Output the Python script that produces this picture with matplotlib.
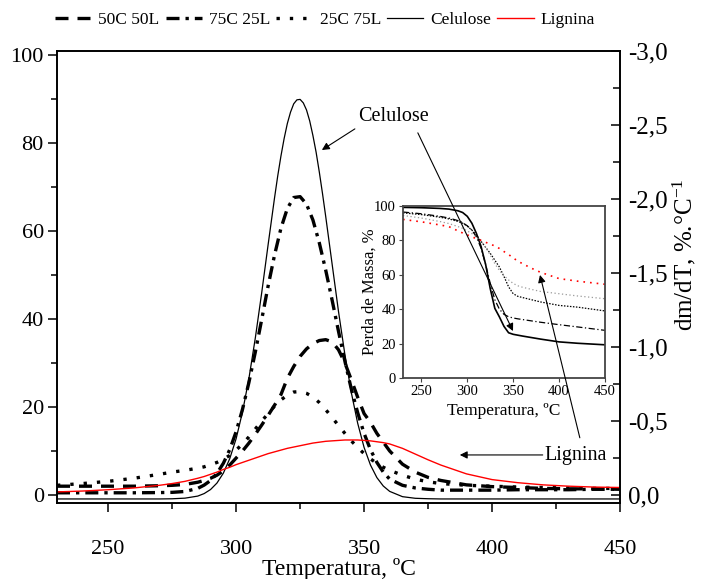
import matplotlib
matplotlib.use('Agg')
import matplotlib.pyplot as plt
from matplotlib.ticker import MultipleLocator, FuncFormatter

plt.rcParams['font.family'] = ['Liberation Serif', 'DejaVu Serif']
plt.rcParams['mathtext.fontset'] = 'custom'
plt.rcParams['mathtext.rm'] = 'Liberation Serif'
plt.rcParams['mathtext.it'] = 'Liberation Serif:italic'

# ---------------- main DTG data ----------------
temperature = [230, 240, 250, 260, 270, 275, 280,
               285, 287.5, 290, 292.5, 295, 297.5, 300, 302.5, 305, 307.5,
               310, 312.5, 315, 317.5, 320, 322.5, 325, 327.5, 330, 332.5,
               335, 337.5, 340, 342.5, 345, 347.5, 350, 352.5, 355, 357.5, 360,
               365, 370, 375, 380, 390, 400, 410, 420, 430, 440, 450]

dtg_50c50l = [2.0, 2.0, 2.0, 2.0, 2.1, 2.2, 2.4,
              2.9, 3.3, 3.8, 4.5, 5.5, 6.8, 8.4, 10.0, 11.8, 13.8,
              15.9, 18.1, 20.4, 22.8, 26.5, 29.2, 31.5, 33.2, 34.4, 35.1,
              35.3, 34.8, 33.0, 30.0, 26.2, 22.2, 18.5, 16.5, 14.0, 12.0, 10.0,
              7.0, 5.2, 4.0, 3.3, 2.3, 1.9, 1.7, 1.5, 1.4, 1.4, 1.3]

dtg_75c25l = [0.5, 0.5, 0.5, 0.5, 0.55, 0.6, 0.8,
              1.5, 2.25, 3.3, 4.9, 7.2, 10.3, 14.4, 19.5, 25.6, 32.5,
              39.9, 47.5, 54.5, 60.6, 65.1, 67.6, 67.8, 66.1, 62.5, 57.3,
              51.1, 44.3, 37.2, 30.4, 24.1, 18.7, 14.0, 10.3, 7.4, 5.2, 3.6,
              2.2, 1.6, 1.3, 1.1, 1.1, 1.1, 1.2, 1.2, 1.2, 1.3, 1.3]

dtg_25c75l = [2.2, 2.6, 3.1, 3.8, 4.7, 5.2, 5.6,
              6.1, 6.4, 6.9, 7.4, 8.1, 9.0, 10.2, 11.6, 13.2, 15.0,
              16.8, 18.5, 20.2, 21.6, 22.7, 23.4, 23.5, 23.1, 22.3, 21.0,
              19.4, 17.6, 15.8, 14.0, 12.3, 10.8, 9.4, 8.2, 7.2, 6.3, 5.6,
              4.5, 3.6, 3.0, 2.6, 2.2, 2.0, 1.8, 1.7, 1.6, 1.5, 1.5]

dtg_lignina = [0.7, 0.9, 1.2, 1.6, 2.2, 2.6, 3.1,
               3.8, 4.2, 4.7, 5.2, 5.8, 6.3, 6.9, 7.4, 7.9, 8.4,
               8.9, 9.4, 9.8, 10.2, 10.6, 10.9, 11.2, 11.5, 11.8, 12.0,
               12.2, 12.3, 12.4, 12.5, 12.5, 12.5, 12.4, 12.3, 12.1, 11.9, 11.6,
               10.6, 9.3, 8.0, 6.8, 4.8, 3.5, 2.8, 2.3, 2.0, 1.8, 1.7]

temperature_cel = [230, 250, 270, 275, 280, 285, 287.5, 290, 292.5, 295, 297.5,
                   300, 302.5, 305, 307.5, 310, 312.5, 315, 316.25, 317.5, 318.75,
                   320, 321.25, 322.5, 323.75, 325, 326.25, 327.5, 328.75, 330,
                   331.25, 332.5, 333.75, 335, 337.5, 340, 342.5, 345, 347.5, 350,
                   352.5, 355, 357.5, 360, 365, 370, 375, 380, 400, 450]
dtg_celulose = [-0.9, -0.9, -0.9, -0.86, -0.72, -0.25, 0.32, 1.24, 2.71, 4.96, 8.25,
                12.8, 18.9, 26.5, 35.7, 46.0, 56.9, 67.5, 72.5, 77.0, 81.0,
                84.4, 87.0, 88.9, 89.8, 89.9, 89.1, 87.5, 85.0, 81.7,
                77.9, 73.4, 68.5, 63.3, 52.5, 41.7, 31.9, 23.3, 16.3, 10.8,
                6.8, 3.95, 2.04, 0.82, -0.38, -0.75, -0.85, -0.9, -0.9, -0.9]

series_labels = ['50C 50L', '75C 25L', '25C 75L', 'Celulose', 'Lignina']

# ---------------- inset TG data ----------------
temperature_tg = [230, 250, 270, 280, 290, 295, 300, 305, 310, 315, 320, 325,
                  330, 335, 340, 345, 350, 355, 360, 370, 380, 400, 420, 450]
tg_celulose = [99.2, 99.0, 98.6, 98.2, 97.2, 96.2, 94.0, 90.0, 84.0, 76.5, 66.0, 52.0,
               40.5, 35.5, 30.0, 26.3, 25.4, 24.9, 24.4, 23.5, 22.6, 21.0, 20.2, 19.3]
tg_75c25l = [96.5, 95.5, 94.0, 93.0, 91.5, 90.3, 88.5, 86.0, 82.0, 75.5, 66.0, 55.0,
             45.5, 40.0, 37.0, 35.6, 34.9, 34.4, 34.0, 33.2, 32.4, 31.0, 29.7, 27.7]
tg_50c50l = [96.0, 95.0, 93.5, 92.5, 91.0, 90.0, 88.3, 86.0, 83.0, 79.5, 76.0, 72.5,
             68.5, 64.5, 59.0, 53.0, 49.0, 47.5, 46.8, 45.5, 44.2, 42.2, 41.2, 39.0]
tg_25c75l = [94.5, 93.0, 91.0, 89.8, 88.0, 87.0, 85.5, 84.0, 82.0, 79.5, 76.0, 71.5,
             66.5, 62.5, 59.5, 57.0, 55.0, 53.6, 52.8, 51.5, 50.3, 49.0, 47.7, 46.1]
tg_lignina = [92.2, 90.8, 89.0, 88.0, 85.5, 84.3, 83.2, 82.1, 81.0, 80.0, 78.9, 77.8,
              76.8, 75.3, 73.5, 71.8, 69.8, 68.0, 66.5, 63.8, 61.4, 57.8, 56.3, 54.5]

right_ticks = [0.0, -0.5, -1.0, -1.5, -2.0, -2.5, -3.0]

W, H = 702, 579
fig = plt.figure(figsize=(W / 100, H / 100), dpi=100)

def box(x0, y0, x1, y1):
    return [x0 / W, 1 - y1 / H, (x1 - x0) / W, (y1 - y0) / H]

ax = fig.add_axes(box(57, 51, 620, 503))
thick = 2.4
l1, = ax.plot(temperature, dtg_50c50l, color='black', lw=thick, ls=(0, (3.9, 2.7)))
l2, = ax.plot(temperature, dtg_75c25l, color='black', lw=thick, ls=(0, (3.9, 1.8, 1.0, 1.8)))
l3, = ax.plot(temperature, dtg_25c75l, color='black', lw=thick, ls=(0, (1.0, 3.0)))
l4, = ax.plot(temperature_cel, dtg_celulose, color='black', lw=0.9)
l5, = ax.plot(temperature, dtg_lignina, color='red', lw=1.0)

ax.set_xlim(230, 450)
ax.set_ylim(-1.82, 100.9)
ax.xaxis.set_major_locator(MultipleLocator(50))
ax.xaxis.set_minor_locator(MultipleLocator(25))
ax.yaxis.set_major_locator(MultipleLocator(20))
ax.yaxis.set_minor_locator(MultipleLocator(10))
ax.tick_params(axis='both', which='both', direction='out', labelsize=16, width=1.1)
ax.tick_params(axis='both', which='major', length=6.5)
ax.tick_params(axis='both', which='minor', length=4)
ax.tick_params(axis='x', which='major', pad=20)
ax.tick_params(axis='y', which='major', pad=3)
ax.tick_params(axis='y', which='both', right=False)
for s in ax.spines.values():
    s.set_linewidth(1.2)
ax.set_xlabel('Temperatura, ºC', fontsize=17, va='center')
ax.xaxis.set_label_coords(0.5, -(569 - 503) / 452)

ax2 = ax.twinx()
ax2.set_ylim(0.054, -3.0)
ax2.set_yticks(right_ticks)
ax2.yaxis.set_major_formatter(FuncFormatter(lambda v, p: ('%.1f' % v).replace('.', ',') if abs(v) > 1e-9 else '0,0'))
ax2.yaxis.set_minor_locator(MultipleLocator(0.25))
ax2.tick_params(axis='y', which='both', direction='in', labelsize=18, width=1.1)
ax2.tick_params(axis='y', which='major', length=6.5, pad=6)
ax2.tick_params(axis='y', which='minor', length=5)
for s in ax2.spines.values():
    s.set_linewidth(1.2)
ax2.set_ylabel('dm/dT, %.°C$^{-1}$', fontsize=18, va='center')
ax2.yaxis.set_label_coords((684 - 57) / 563, (503 - 255) / 452)

# ---------------- inset ----------------
axin = fig.add_axes(box(403, 206, 605, 378))
axin.plot(temperature_tg, tg_celulose, color='black', lw=1.2)
axin.plot(temperature_tg, tg_75c25l, color='black', lw=0.9, ls=(0, (5, 2, 1, 2)))
axin.plot(temperature_tg, tg_50c50l, color='black', lw=0.9, ls=(0, (1.2, 1.2)))
axin.plot(temperature_tg, tg_25c75l, color='#9a9a9a', lw=0.9, ls=(0, (1, 2)))
axin.plot(temperature_tg, tg_lignina, color='red', lw=1.2, ls=(0, (1, 3)))
axin.set_xlim(230, 450)
axin.set_ylim(0, 100)
axin.xaxis.set_major_locator(MultipleLocator(50))
axin.yaxis.set_major_locator(MultipleLocator(20))
axin.tick_params(axis='both', which='both', direction='out', labelsize=10.5, length=3, pad=2, color='#444444')
for s in axin.spines.values():
    s.set_linewidth(1.3)
    s.set_color('#444444')
axin.set_xlabel('Temperatura, ºC', fontsize=12.5, va='center')
axin.xaxis.set_label_coords(0.5, -(411 - 378) / 172)
axin.set_ylabel('Perda de Massa, %', fontsize=12, va='center')
axin.yaxis.set_label_coords((370 - 403) / 202, 0.5)

# ---------------- annotations ----------------
arrow = dict(arrowstyle='-|>', color='black', lw=0.8, mutation_scale=11, shrinkA=0, shrinkB=0)
ax.text(361.6, 86.1, 'Celulose', fontsize=14.5, ha='center', va='center')
ax.annotate('', xy=(333.5, 78.4), xytext=(346.4, 83.2), arrowprops=arrow, annotation_clip=False)
axin.annotate('', xy=(349.8, 27.3), xycoords='data', xytext=(371.0, 82.3),
              textcoords=ax.transData, arrowprops=arrow, annotation_clip=False)
ax.text(432.7, 8.9, 'Lignina', fontsize=14.5, ha='center', va='center')
ax.annotate('', xy=(387.4, 9.1), xytext=(419.8, 9.1), arrowprops=arrow, annotation_clip=False)
axin.annotate('', xy=(379.2, 59.9), xycoords='data', xytext=(434.3, 13.0),
              textcoords=ax.transData, arrowprops=arrow, annotation_clip=False)

fig.legend([l1, l2, l3, l4, l5], series_labels, loc='center',
           bbox_to_anchor=(325 / W, 1 - 20 / H), ncol=5, frameon=False, fontsize=12.5,
           handlelength=2.1, handletextpad=0.4, columnspacing=0.35,
           borderpad=0, borderaxespad=0)

fig.savefig('out.png', dpi=100)
